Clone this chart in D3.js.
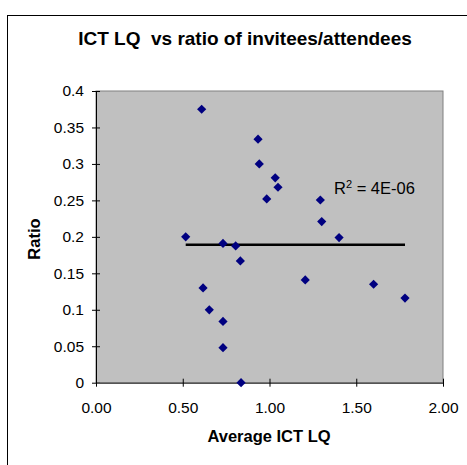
<!DOCTYPE html>
<html><head><meta charset="utf-8">
<script src="https://cdn.jsdelivr.net/npm/d3@7"></script>
<style>body{margin:0;background:#fff}svg{display:block}text{font-family:"Liberation Sans",Arial,sans-serif;white-space:pre}</style>
</head><body>
<script>
const lq = [0.609,0.934,0.941,1.033,1.049,0.984,1.293,1.301,1.401,0.517,0.732,0.805,0.832,0.617,0.653,0.732,0.732,0.836,1.206,1.600,1.781];
const ratio = [0.375,0.334,0.300,0.281,0.268,0.252,0.2505,0.221,0.199,0.200,0.191,0.1875,0.167,0.130,0.100,0.084,0.048,0.000,0.141,0.135,0.116];
const trendX = [0.517,1.781];
const trendY = [0.189,0.189];
const xTicks = [0,0.5,1,1.5,2];
const yTicks = [0,0.05,0.1,0.15,0.2,0.25,0.3,0.35,0.4];
const title = "ICT LQ  vs ratio of invitees/attendees";
const xTitle = "Average ICT LQ";
const yTitle = "Ratio";
const r2Label = "4E-06";

const W=467,H=465;
const svg=d3.select("body").append("svg").attr("width",W).attr("height",H);
svg.append("rect").attr("x",7.5).attr("y",15.5).attr("width",480).attr("height",480).attr("fill","#fff").attr("stroke","#000");

const L=96,R=443,T=91,B=382.7;
const x=d3.scaleLinear().domain([0,2]).range([L,R]);
const y=d3.scaleLinear().domain([0,0.4]).range([B,T]);

svg.append("rect").attr("x",L).attr("y",T).attr("width",R-L).attr("height",B-T).attr("fill","#C0C0C0").attr("stroke","#808080").attr("stroke-width",1);

// axes
const yAx=svg.append("g").attr("transform",`translate(${L},0)`)
 .call(d3.axisLeft(y).tickValues(yTicks).tickFormat(d=>String(+d.toFixed(2))).tickSizeInner(4).tickSizeOuter(0).tickPadding(8));
yAx.selectAll(".tick line").attr("x2",4).attr("x1",-4).attr("stroke","#000");
yAx.select(".domain").attr("stroke","#000");
yAx.selectAll("text").attr("font-size",15.5).attr("fill","#000");

const xAx=svg.append("g").attr("transform",`translate(0,${B})`)
 .call(d3.axisBottom(x).tickValues(xTicks).tickFormat(d3.format(".2f")).tickSizeInner(4).tickSizeOuter(0).tickPadding(15.5));
xAx.selectAll(".tick line").attr("y1",-4).attr("y2",4).attr("stroke","#000");
xAx.select(".domain").attr("stroke","#555").attr("stroke-width",1.5);
xAx.selectAll("text").attr("font-size",15.5).attr("fill","#000");

// trend line
svg.append("line").attr("x1",x(trendX[0])).attr("x2",x(trendX[1])).attr("y1",y(trendY[0])).attr("y2",y(trendY[1]))
 .attr("stroke","#000").attr("stroke-width",2.5);

// points
const pts=lq.map((v,i)=>[v,ratio[i]]);
svg.append("g").selectAll("path").data(pts).join("path")
 .attr("transform",d=>`translate(${x(d[0])},${y(d[1])})`)
 .attr("d","M0,-4.6L4.6,0L0,4.6L-4.6,0Z").attr("fill","#000080");

// R2 label
const rt=svg.append("text").attr("x",334).attr("y",194).attr("font-size",16.5).attr("fill","#000");
rt.append("tspan").text("R");
rt.append("tspan").attr("dy",-6.5).attr("font-size",11).text("2");
rt.append("tspan").attr("dy",6.5).text(" = "+r2Label);

// titles
svg.append("text").attr("x",245).attr("y",45).attr("text-anchor","middle").attr("font-size",19).attr("font-weight","bold").text(title);
svg.append("text").attr("x",269).attr("y",442).attr("text-anchor","middle").attr("font-size",16.5).attr("font-weight","bold").text(xTitle);
svg.append("text").attr("transform",`translate(40,239) rotate(-90)`).attr("text-anchor","middle").attr("font-size",16.5).attr("font-weight","bold").text(yTitle);
</script>
</body></html>
